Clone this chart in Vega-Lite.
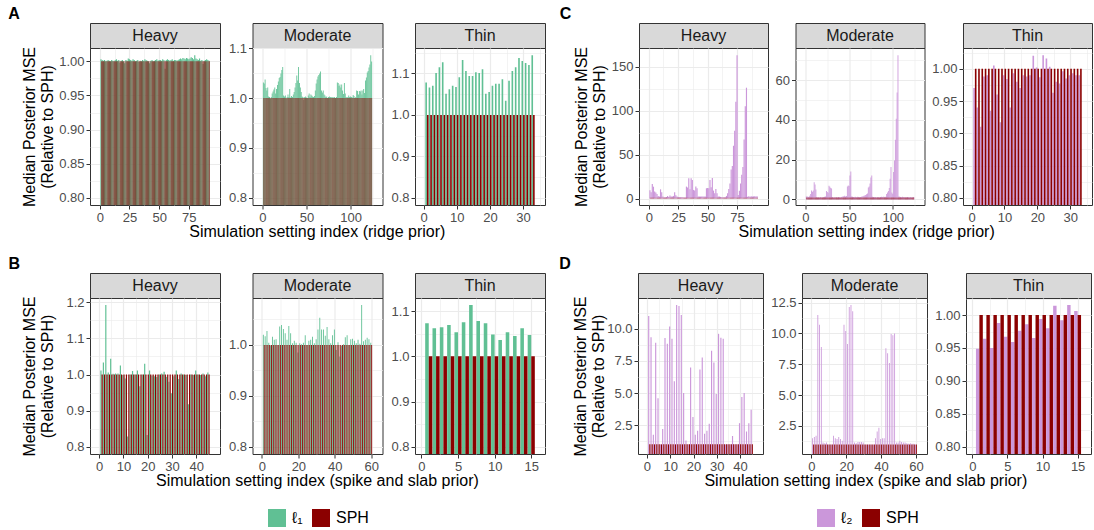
{
"$schema":"https://vega.github.io/schema/vega-lite/v6.json",
"padding":{"left":8,"top":5,"right":0,"bottom":0},
"background":"white",
"config":{
 "font":"Liberation Sans",
 "view":{"stroke":"#333333","strokeWidth":1},
 "axis":{"domain":false,"grid":true,"gridColor":"#EBEBEB","tickColor":"#333333","tickSize":4,"tickWidth":1,"labelColor":"#4D4D4D","labelFontSize":13,"labelPadding":2,"labelFlush":false,"labelOverlap":false,"titleFontSize":16,"titleFontWeight":"normal","titleColor":"#000000","titlePadding":3},
 "axisY":{"titleLineHeight":18},
 "title":{"fontSize":16,"color":"#000000"}
},
"datasets":{
"AH":[{"i":1,"L":1.003,"S":1},{"i":2,"L":1.002,"S":1},{"i":3,"L":1.001,"S":1},{"i":4,"L":1.002,"S":1},{"i":5,"L":1.000,"S":1},{"i":6,"L":1.001,"S":1},{"i":7,"L":1.002,"S":1},{"i":8,"L":1.001,"S":1},{"i":9,"L":1.000,"S":1},{"i":10,"L":1.002,"S":1},{"i":11,"L":1.001,"S":1},{"i":12,"L":1.000,"S":1},{"i":13,"L":1.002,"S":1},{"i":14,"L":1.003,"S":1},{"i":15,"L":1.001,"S":1},{"i":16,"L":1.002,"S":1},{"i":17,"L":0.998,"S":1},{"i":18,"L":1.001,"S":1},{"i":19,"L":1.002,"S":1},{"i":20,"L":1.000,"S":1},{"i":21,"L":0.997,"S":1},{"i":22,"L":1.002,"S":1},{"i":23,"L":1.001,"S":1},{"i":24,"L":1.004,"S":1},{"i":25,"L":1.003,"S":1},{"i":26,"L":1.002,"S":1},{"i":27,"L":1.001,"S":1},{"i":28,"L":1.003,"S":1},{"i":29,"L":1.002,"S":1},{"i":30,"L":1.000,"S":1},{"i":31,"L":1.001,"S":1},{"i":32,"L":1.002,"S":1},{"i":33,"L":0.999,"S":1},{"i":34,"L":1.001,"S":1},{"i":35,"L":1.000,"S":1},{"i":36,"L":1.002,"S":1},{"i":37,"L":1.001,"S":1},{"i":38,"L":1.003,"S":1},{"i":39,"L":1.002,"S":1},{"i":40,"L":1.001,"S":1},{"i":41,"L":1.000,"S":1},{"i":42,"L":0.997,"S":1},{"i":43,"L":1.001,"S":1},{"i":44,"L":1.002,"S":1},{"i":45,"L":1.000,"S":1},{"i":46,"L":1.001,"S":1},{"i":47,"L":1.002,"S":1},{"i":48,"L":1.003,"S":1},{"i":49,"L":1.001,"S":1},{"i":50,"L":1.002,"S":1},{"i":51,"L":1.002,"S":1},{"i":52,"L":1.001,"S":1},{"i":53,"L":1.003,"S":1},{"i":54,"L":1.002,"S":1},{"i":55,"L":0.989,"S":1},{"i":56,"L":1.002,"S":1},{"i":57,"L":1.003,"S":1},{"i":58,"L":1.002,"S":1},{"i":59,"L":1.001,"S":1},{"i":60,"L":1.002,"S":1},{"i":61,"L":1.003,"S":1},{"i":62,"L":1.001,"S":1},{"i":63,"L":1.002,"S":1},{"i":64,"L":1.002,"S":1},{"i":65,"L":1.001,"S":1},{"i":66,"L":1.002,"S":1},{"i":67,"L":1.003,"S":1},{"i":68,"L":1.004,"S":1},{"i":69,"L":1.003,"S":1},{"i":70,"L":1.005,"S":1},{"i":71,"L":1.004,"S":1},{"i":72,"L":1.003,"S":1},{"i":73,"L":1.005,"S":1},{"i":74,"L":1.004,"S":1},{"i":75,"L":1.003,"S":1},{"i":76,"L":1.004,"S":1},{"i":77,"L":1.006,"S":1},{"i":78,"L":1.005,"S":1},{"i":79,"L":1.003,"S":1},{"i":80,"L":1.009,"S":1},{"i":81,"L":1.004,"S":1},{"i":82,"L":1.003,"S":1},{"i":83,"L":1.002,"S":1},{"i":84,"L":1.004,"S":1},{"i":85,"L":1.001,"S":1},{"i":86,"L":1.002,"S":1},{"i":87,"L":0.996,"S":1},{"i":88,"L":1.001,"S":1},{"i":89,"L":1.002,"S":1},{"i":90,"L":1.003,"S":1},{"i":91,"L":1.002,"S":1},{"i":92,"L":1.001,"S":1}],
"AM":[{"i":1,"L":1.031,"S":1},{"i":2,"L":1.029,"S":1},{"i":3,"L":1.037,"S":1},{"i":4,"L":1.020,"S":1},{"i":5,"L":1.015,"S":1},{"i":6,"L":1.021,"S":1},{"i":7,"L":1.003,"S":1},{"i":8,"L":1.002,"S":1},{"i":9,"L":0.999,"S":1},{"i":10,"L":1.002,"S":1},{"i":11,"L":1.009,"S":1},{"i":12,"L":1.013,"S":1},{"i":13,"L":1.017,"S":1},{"i":14,"L":1.021,"S":1},{"i":15,"L":1.009,"S":1},{"i":16,"L":1.018,"S":1},{"i":17,"L":1.026,"S":1},{"i":18,"L":1.033,"S":1},{"i":19,"L":1.040,"S":1},{"i":20,"L":1.042,"S":1},{"i":21,"L":1.049,"S":1},{"i":22,"L":1.056,"S":1},{"i":23,"L":1.062,"S":1},{"i":24,"L":1.005,"S":1},{"i":25,"L":1.003,"S":1},{"i":26,"L":1.005,"S":1},{"i":27,"L":0.999,"S":1},{"i":28,"L":1.002,"S":1},{"i":29,"L":1.007,"S":1},{"i":30,"L":1.002,"S":1},{"i":31,"L":1.018,"S":1},{"i":32,"L":1.001,"S":1},{"i":33,"L":1.004,"S":1},{"i":34,"L":1.002,"S":1},{"i":35,"L":1.007,"S":1},{"i":36,"L":1.012,"S":1},{"i":37,"L":1.021,"S":1},{"i":38,"L":1.030,"S":1},{"i":39,"L":1.045,"S":1},{"i":40,"L":1.035,"S":1},{"i":41,"L":1.062,"S":1},{"i":42,"L":1.030,"S":1},{"i":43,"L":1.021,"S":1},{"i":44,"L":1.012,"S":1},{"i":45,"L":1.003,"S":1},{"i":46,"L":1.002,"S":1},{"i":47,"L":0.996,"S":1},{"i":48,"L":1.002,"S":1},{"i":49,"L":1.003,"S":1},{"i":50,"L":1.001,"S":1},{"i":51,"L":1.000,"S":1},{"i":52,"L":1.005,"S":1},{"i":53,"L":1.009,"S":1},{"i":54,"L":1.002,"S":1},{"i":55,"L":1.007,"S":1},{"i":56,"L":1.005,"S":1},{"i":57,"L":1.003,"S":1},{"i":58,"L":1.002,"S":1},{"i":59,"L":1.004,"S":1},{"i":60,"L":1.015,"S":1},{"i":61,"L":1.029,"S":1},{"i":62,"L":1.037,"S":1},{"i":63,"L":1.043,"S":1},{"i":64,"L":1.046,"S":1},{"i":65,"L":1.049,"S":1},{"i":66,"L":1.053,"S":1},{"i":67,"L":1.015,"S":1},{"i":68,"L":1.011,"S":1},{"i":69,"L":1.015,"S":1},{"i":70,"L":1.007,"S":1},{"i":71,"L":1.005,"S":1},{"i":72,"L":1.002,"S":1},{"i":73,"L":1.003,"S":1},{"i":74,"L":1.000,"S":1},{"i":75,"L":1.002,"S":1},{"i":76,"L":1.003,"S":1},{"i":77,"L":1.002,"S":1},{"i":78,"L":1.002,"S":1},{"i":79,"L":1.001,"S":1},{"i":80,"L":1.002,"S":1},{"i":81,"L":1.001,"S":1},{"i":82,"L":1.002,"S":1},{"i":83,"L":1.000,"S":1},{"i":84,"L":1.002,"S":1},{"i":85,"L":1.031,"S":1},{"i":86,"L":1.030,"S":1},{"i":87,"L":1.024,"S":1},{"i":88,"L":1.027,"S":1},{"i":89,"L":1.021,"S":1},{"i":90,"L":1.027,"S":1},{"i":91,"L":1.015,"S":1},{"i":92,"L":1.008,"S":1},{"i":93,"L":1.030,"S":1},{"i":94,"L":1.009,"S":1},{"i":95,"L":1.002,"S":1},{"i":96,"L":1.001,"S":1},{"i":97,"L":1.002,"S":1},{"i":98,"L":1.005,"S":1},{"i":99,"L":1.002,"S":1},{"i":100,"L":1.003,"S":1},{"i":101,"L":1.002,"S":1},{"i":102,"L":1.001,"S":1},{"i":103,"L":1.006,"S":1},{"i":104,"L":1.004,"S":1},{"i":105,"L":1.000,"S":1},{"i":106,"L":1.002,"S":1},{"i":107,"L":1.015,"S":1},{"i":108,"L":1.014,"S":1},{"i":109,"L":1.007,"S":1},{"i":110,"L":1.014,"S":1},{"i":111,"L":1.013,"S":1},{"i":112,"L":1.015,"S":1},{"i":113,"L":1.007,"S":1},{"i":114,"L":1.015,"S":1},{"i":115,"L":1.018,"S":1},{"i":116,"L":1.010,"S":1},{"i":117,"L":1.035,"S":1},{"i":118,"L":1.041,"S":1},{"i":119,"L":1.051,"S":1},{"i":120,"L":1.054,"S":1},{"i":121,"L":1.061,"S":1},{"i":122,"L":1.067,"S":1},{"i":123,"L":1.086,"S":1},{"i":124,"L":1.073,"S":1}],
"AT":[{"i":1,"L":1.078,"S":1},{"i":2,"L":1.066,"S":1},{"i":3,"L":1.070,"S":1},{"i":4,"L":1.101,"S":1},{"i":5,"L":1.115,"S":1},{"i":6,"L":1.127,"S":1},{"i":7,"L":1.051,"S":1},{"i":8,"L":1.062,"S":1},{"i":9,"L":1.070,"S":1},{"i":10,"L":1.067,"S":1},{"i":11,"L":1.091,"S":1},{"i":12,"L":1.132,"S":1},{"i":13,"L":1.106,"S":1},{"i":14,"L":1.094,"S":1},{"i":15,"L":1.094,"S":1},{"i":16,"L":1.103,"S":1},{"i":17,"L":1.101,"S":1},{"i":18,"L":1.110,"S":1},{"i":19,"L":1.051,"S":1},{"i":20,"L":1.055,"S":1},{"i":21,"L":1.070,"S":1},{"i":22,"L":1.075,"S":1},{"i":23,"L":1.075,"S":1},{"i":24,"L":1.086,"S":1},{"i":25,"L":1.034,"S":1},{"i":26,"L":1.082,"S":1},{"i":27,"L":1.106,"S":1},{"i":28,"L":1.115,"S":1},{"i":29,"L":1.137,"S":1},{"i":30,"L":1.130,"S":1},{"i":31,"L":1.125,"S":1},{"i":32,"L":1.120,"S":1},{"i":33,"L":1.144,"S":1}],
"BH":[{"i":1,"L":1.011,"S":1},{"i":2,"L":1.033,"S":1},{"i":3,"L":1.192,"S":1},{"i":4,"L":1.006,"S":1},{"i":5,"L":1.044,"S":1},{"i":6,"L":1.002,"S":1},{"i":7,"L":1.003,"S":1},{"i":8,"L":1.003,"S":1},{"i":9,"L":1.025,"S":1},{"i":10,"L":0.999,"S":1},{"i":11,"L":0.989,"S":1},{"i":12,"L":0.829,"S":1},{"i":13,"L":1.000,"S":1},{"i":14,"L":1.010,"S":1},{"i":15,"L":1.000,"S":1},{"i":16,"L":1.011,"S":1},{"i":17,"L":0.968,"S":1},{"i":18,"L":1.000,"S":1},{"i":19,"L":1.030,"S":1},{"i":20,"L":0.833,"S":1},{"i":21,"L":1.011,"S":1},{"i":22,"L":0.997,"S":1},{"i":23,"L":0.995,"S":1},{"i":24,"L":0.993,"S":1},{"i":25,"L":1.000,"S":1},{"i":26,"L":1.003,"S":1},{"i":27,"L":1.008,"S":1},{"i":28,"L":0.994,"S":1},{"i":29,"L":0.980,"S":1},{"i":30,"L":0.948,"S":1},{"i":31,"L":0.995,"S":1},{"i":32,"L":1.011,"S":1},{"i":33,"L":0.988,"S":1},{"i":34,"L":1.003,"S":1},{"i":35,"L":1.000,"S":1},{"i":36,"L":0.999,"S":1},{"i":37,"L":0.918,"S":1},{"i":38,"L":1.000,"S":1},{"i":39,"L":0.999,"S":1},{"i":40,"L":1.011,"S":1},{"i":41,"L":1.000,"S":1},{"i":42,"L":0.999,"S":1},{"i":43,"L":1.003,"S":1},{"i":44,"L":0.995,"S":1},{"i":45,"L":1.006,"S":1}],
"BM":[{"i":1,"L":1.020,"S":1},{"i":2,"L":1.017,"S":1},{"i":3,"L":1.027,"S":1},{"i":4,"L":1.004,"S":1},{"i":5,"L":0.999,"S":1},{"i":6,"L":1.016,"S":1},{"i":7,"L":1.010,"S":1},{"i":8,"L":1.011,"S":1},{"i":9,"L":1.000,"S":1},{"i":10,"L":1.036,"S":1},{"i":11,"L":1.039,"S":1},{"i":12,"L":1.031,"S":1},{"i":13,"L":1.023,"S":1},{"i":14,"L":1.010,"S":1},{"i":15,"L":1.037,"S":1},{"i":16,"L":1.023,"S":1},{"i":17,"L":1.003,"S":1},{"i":18,"L":1.008,"S":1},{"i":19,"L":1.004,"S":1},{"i":20,"L":0.985,"S":1},{"i":21,"L":1.003,"S":1},{"i":22,"L":1.001,"S":1},{"i":23,"L":1.004,"S":1},{"i":24,"L":1.019,"S":1},{"i":25,"L":1.000,"S":1},{"i":26,"L":1.008,"S":1},{"i":27,"L":1.010,"S":1},{"i":28,"L":1.016,"S":1},{"i":29,"L":1.003,"S":1},{"i":30,"L":1.011,"S":1},{"i":31,"L":1.030,"S":1},{"i":32,"L":1.053,"S":1},{"i":33,"L":1.030,"S":1},{"i":34,"L":1.030,"S":1},{"i":35,"L":1.018,"S":1},{"i":36,"L":1.035,"S":1},{"i":37,"L":1.011,"S":1},{"i":38,"L":1.003,"S":1},{"i":39,"L":1.019,"S":1},{"i":40,"L":1.030,"S":1},{"i":41,"L":0.990,"S":1},{"i":42,"L":1.005,"S":1},{"i":43,"L":0.977,"S":1},{"i":44,"L":0.998,"S":1},{"i":45,"L":1.001,"S":1},{"i":46,"L":1.015,"S":1},{"i":47,"L":1.019,"S":1},{"i":48,"L":1.000,"S":1},{"i":49,"L":1.011,"S":1},{"i":50,"L":1.012,"S":1},{"i":51,"L":1.008,"S":1},{"i":52,"L":1.003,"S":1},{"i":53,"L":1.010,"S":1},{"i":54,"L":1.002,"S":1},{"i":55,"L":1.078,"S":1},{"i":56,"L":1.007,"S":1},{"i":57,"L":1.010,"S":1},{"i":58,"L":1.014,"S":1},{"i":59,"L":1.011,"S":1},{"i":60,"L":1.004,"S":1}],
"BT":[{"i":1,"L":1.073,"S":1},{"i":2,"L":1.062,"S":1},{"i":3,"L":1.064,"S":1},{"i":4,"L":1.069,"S":1},{"i":5,"L":1.053,"S":1},{"i":6,"L":1.075,"S":1},{"i":7,"L":1.113,"S":1},{"i":8,"L":1.078,"S":1},{"i":9,"L":1.073,"S":1},{"i":10,"L":1.048,"S":1},{"i":11,"L":1.036,"S":1},{"i":12,"L":1.053,"S":1},{"i":13,"L":1.045,"S":1},{"i":14,"L":1.062,"S":1},{"i":15,"L":1.047,"S":1}],
"CH":[{"i":1,"L":9.5,"S":1},{"i":2,"L":7.2,"S":1},{"i":3,"L":16.5,"S":1},{"i":4,"L":13.5,"S":1},{"i":5,"L":8,"S":1},{"i":6,"L":6.8,"S":1},{"i":7,"L":5.3,"S":1},{"i":8,"L":3,"S":1},{"i":9,"L":2.3,"S":1},{"i":10,"L":10.5,"S":1},{"i":11,"L":7.2,"S":1},{"i":12,"L":2.3,"S":1},{"i":13,"L":1.5,"S":1},{"i":14,"L":1.5,"S":1},{"i":15,"L":1.9,"S":1},{"i":16,"L":3,"S":1},{"i":17,"L":1.9,"S":1},{"i":18,"L":3.4,"S":1},{"i":19,"L":2.3,"S":1},{"i":20,"L":2.3,"S":1},{"i":21,"L":3,"S":1},{"i":22,"L":7.2,"S":1},{"i":23,"L":3.8,"S":1},{"i":24,"L":2.3,"S":1},{"i":25,"L":1.9,"S":1},{"i":26,"L":1.5,"S":1},{"i":27,"L":1.5,"S":1},{"i":28,"L":1.5,"S":1},{"i":29,"L":1.5,"S":1},{"i":30,"L":1.1,"S":1},{"i":31,"L":1.1,"S":1},{"i":32,"L":13.6,"S":1},{"i":33,"L":12.5,"S":1},{"i":34,"L":23,"S":1},{"i":35,"L":10.6,"S":1},{"i":36,"L":23,"S":1},{"i":37,"L":21,"S":1},{"i":38,"L":9.8,"S":1},{"i":39,"L":9.1,"S":1},{"i":40,"L":13.6,"S":1},{"i":41,"L":11.7,"S":1},{"i":42,"L":2.3,"S":1},{"i":43,"L":2.3,"S":1},{"i":44,"L":2.3,"S":1},{"i":45,"L":2.3,"S":1},{"i":46,"L":2.3,"S":1},{"i":47,"L":2.3,"S":1},{"i":48,"L":2.3,"S":1},{"i":49,"L":11.7,"S":1},{"i":50,"L":12.1,"S":1},{"i":51,"L":11.7,"S":1},{"i":52,"L":21,"S":1},{"i":53,"L":12.9,"S":1},{"i":54,"L":23.5,"S":1},{"i":55,"L":9.1,"S":1},{"i":56,"L":6,"S":1},{"i":57,"L":11,"S":1},{"i":58,"L":6,"S":1},{"i":59,"L":2.3,"S":1},{"i":60,"L":2.3,"S":1},{"i":61,"L":1.9,"S":1},{"i":62,"L":1.5,"S":1},{"i":63,"L":1.5,"S":1},{"i":64,"L":1.5,"S":1},{"i":65,"L":1.5,"S":1},{"i":66,"L":3,"S":1},{"i":67,"L":6,"S":1},{"i":68,"L":11,"S":1},{"i":69,"L":17,"S":1},{"i":70,"L":33,"S":1},{"i":71,"L":37,"S":1},{"i":72,"L":60,"S":1},{"i":73,"L":77,"S":1},{"i":74,"L":110,"S":1},{"i":75,"L":163,"S":1},{"i":76,"L":4,"S":1},{"i":77,"L":9,"S":1},{"i":78,"L":17,"S":1},{"i":79,"L":27,"S":1},{"i":80,"L":36,"S":1},{"i":81,"L":67,"S":1},{"i":82,"L":105,"S":1},{"i":83,"L":126,"S":1},{"i":84,"L":2,"S":1},{"i":85,"L":2.5,"S":1},{"i":86,"L":2,"S":1},{"i":87,"L":2.5,"S":1},{"i":88,"L":2.3,"S":1},{"i":89,"L":2.5,"S":1},{"i":90,"L":2.5,"S":1},{"i":91,"L":2.3,"S":1},{"i":92,"L":2.5,"S":1}],
"CM":[{"i":1,"L":1.5,"S":1},{"i":2,"L":1.5,"S":1},{"i":3,"L":1.3,"S":1},{"i":4,"L":1.2,"S":1},{"i":5,"L":1.8,"S":1},{"i":6,"L":2.7,"S":1},{"i":7,"L":4.5,"S":1},{"i":8,"L":3.9,"S":1},{"i":9,"L":4.5,"S":1},{"i":10,"L":8.6,"S":1},{"i":11,"L":7.5,"S":1},{"i":12,"L":5.0,"S":1},{"i":13,"L":1.2,"S":1},{"i":14,"L":1.0,"S":1},{"i":15,"L":1.1,"S":1},{"i":16,"L":1.0,"S":1},{"i":17,"L":1.2,"S":1},{"i":18,"L":1.0,"S":1},{"i":19,"L":1.1,"S":1},{"i":20,"L":1.0,"S":1},{"i":21,"L":1.2,"S":1},{"i":22,"L":1.3,"S":1},{"i":23,"L":1.5,"S":1},{"i":24,"L":4.2,"S":1},{"i":25,"L":3.7,"S":1},{"i":26,"L":3.4,"S":1},{"i":27,"L":6.9,"S":1},{"i":28,"L":6.4,"S":1},{"i":29,"L":5.8,"S":1},{"i":30,"L":5.5,"S":1},{"i":31,"L":1.2,"S":1},{"i":32,"L":1.0,"S":1},{"i":33,"L":1.1,"S":1},{"i":34,"L":1.0,"S":1},{"i":35,"L":1.2,"S":1},{"i":36,"L":1.1,"S":1},{"i":37,"L":1.0,"S":1},{"i":38,"L":1.2,"S":1},{"i":39,"L":1.1,"S":1},{"i":40,"L":1.0,"S":1},{"i":41,"L":1.2,"S":1},{"i":42,"L":1.3,"S":1},{"i":43,"L":1.5,"S":1},{"i":44,"L":1.6,"S":1},{"i":45,"L":1.8,"S":1},{"i":46,"L":1.5,"S":1},{"i":47,"L":1.7,"S":1},{"i":48,"L":6.5,"S":1},{"i":49,"L":7.0,"S":1},{"i":50,"L":6.8,"S":1},{"i":51,"L":12.0,"S":1},{"i":52,"L":14.0,"S":1},{"i":53,"L":1.5,"S":1},{"i":54,"L":1.3,"S":1},{"i":55,"L":1.2,"S":1},{"i":56,"L":1.1,"S":1},{"i":57,"L":1.3,"S":1},{"i":58,"L":1.2,"S":1},{"i":59,"L":1.1,"S":1},{"i":60,"L":1.3,"S":1},{"i":61,"L":1.2,"S":1},{"i":62,"L":1.1,"S":1},{"i":63,"L":1.2,"S":1},{"i":64,"L":1.4,"S":1},{"i":65,"L":1.5,"S":1},{"i":66,"L":1.6,"S":1},{"i":67,"L":1.8,"S":1},{"i":68,"L":2.0,"S":1},{"i":69,"L":2.3,"S":1},{"i":70,"L":2.6,"S":1},{"i":71,"L":3.0,"S":1},{"i":72,"L":6.0,"S":1},{"i":73,"L":6.5,"S":1},{"i":74,"L":8.0,"S":1},{"i":75,"L":11.0,"S":1},{"i":76,"L":12.0,"S":1},{"i":77,"L":1.3,"S":1},{"i":78,"L":1.2,"S":1},{"i":79,"L":1.1,"S":1},{"i":80,"L":1.2,"S":1},{"i":81,"L":1.0,"S":1},{"i":82,"L":1.1,"S":1},{"i":83,"L":1.2,"S":1},{"i":84,"L":1.1,"S":1},{"i":85,"L":1.0,"S":1},{"i":86,"L":1.2,"S":1},{"i":87,"L":1.3,"S":1},{"i":88,"L":1.2,"S":1},{"i":89,"L":1.4,"S":1},{"i":90,"L":1.3,"S":1},{"i":91,"L":1.2,"S":1},{"i":92,"L":1.3,"S":1},{"i":93,"L":2.7,"S":1},{"i":94,"L":3.5,"S":1},{"i":95,"L":4.2,"S":1},{"i":96,"L":5.7,"S":1},{"i":97,"L":10.4,"S":1},{"i":98,"L":16.3,"S":1},{"i":99,"L":3.5,"S":1},{"i":100,"L":2.9,"S":1},{"i":101,"L":13.8,"S":1},{"i":102,"L":19.6,"S":1},{"i":103,"L":30.0,"S":1},{"i":104,"L":40.6,"S":1},{"i":105,"L":53.7,"S":1},{"i":106,"L":72.5,"S":1},{"i":107,"L":1.5,"S":1},{"i":108,"L":1.3,"S":1},{"i":109,"L":1.2,"S":1},{"i":110,"L":1.1,"S":1},{"i":111,"L":1.3,"S":1},{"i":112,"L":1.2,"S":1},{"i":113,"L":1.1,"S":1},{"i":114,"L":1.2,"S":1},{"i":115,"L":1.0,"S":1},{"i":116,"L":1.1,"S":1},{"i":117,"L":1.2,"S":1},{"i":118,"L":1.1,"S":1},{"i":119,"L":1.0,"S":1},{"i":120,"L":1.2,"S":1},{"i":121,"L":1.1,"S":1},{"i":122,"L":1.0,"S":1},{"i":123,"L":1.1,"S":1},{"i":124,"L":1.2,"S":1}],
"CT":[{"i":1,"L":0.970,"S":1},{"i":2,"L":0.940,"S":1},{"i":3,"L":0.910,"S":1},{"i":4,"L":0.988,"S":1},{"i":5,"L":0.990,"S":1},{"i":6,"L":0.935,"S":1},{"i":7,"L":1.005,"S":1},{"i":8,"L":0.960,"S":1},{"i":9,"L":0.917,"S":1},{"i":10,"L":0.990,"S":1},{"i":11,"L":0.984,"S":1},{"i":12,"L":0.940,"S":1},{"i":13,"L":0.993,"S":1},{"i":14,"L":0.980,"S":1},{"i":15,"L":0.970,"S":1},{"i":16,"L":0.990,"S":1},{"i":17,"L":0.988,"S":1},{"i":18,"L":0.990,"S":1},{"i":19,"L":1.020,"S":1},{"i":20,"L":1.002,"S":1},{"i":21,"L":0.987,"S":1},{"i":22,"L":1.021,"S":1},{"i":23,"L":1.016,"S":1},{"i":24,"L":1.003,"S":1},{"i":25,"L":0.963,"S":1},{"i":26,"L":0.980,"S":1},{"i":27,"L":0.977,"S":1},{"i":28,"L":0.996,"S":1},{"i":29,"L":0.985,"S":1},{"i":30,"L":0.990,"S":1},{"i":31,"L":0.993,"S":1},{"i":32,"L":0.990,"S":1},{"i":33,"L":0.990,"S":1}],
"DH":[{"i":1,"L":11.0,"S":1},{"i":2,"L":9.36,"S":1},{"i":3,"L":1.75,"S":1},{"i":4,"L":8.93,"S":1},{"i":5,"L":4.6,"S":1},{"i":6,"L":1.0,"S":1},{"i":7,"L":2.2,"S":1},{"i":8,"L":9.3,"S":1},{"i":9,"L":8.85,"S":1},{"i":10,"L":10.2,"S":1},{"i":11,"L":9.24,"S":1},{"i":12,"L":5.92,"S":1},{"i":13,"L":11.86,"S":1},{"i":14,"L":11.78,"S":1},{"i":15,"L":11.09,"S":1},{"i":16,"L":5.0,"S":1},{"i":17,"L":1.3,"S":1},{"i":18,"L":1.0,"S":1},{"i":19,"L":7.0,"S":1},{"i":20,"L":3.14,"S":1},{"i":21,"L":1.75,"S":1},{"i":22,"L":2.06,"S":1},{"i":23,"L":6.84,"S":1},{"i":24,"L":7.77,"S":1},{"i":25,"L":1.83,"S":1},{"i":26,"L":2.06,"S":1},{"i":27,"L":2.6,"S":1},{"i":28,"L":8.3,"S":1},{"i":29,"L":7.38,"S":1},{"i":30,"L":4.92,"S":1},{"i":31,"L":9.62,"S":1},{"i":32,"L":9.31,"S":1},{"i":33,"L":9.24,"S":1},{"i":34,"L":1.0,"S":1},{"i":35,"L":1.0,"S":1},{"i":36,"L":1.0,"S":1},{"i":37,"L":1.65,"S":1},{"i":38,"L":1.0,"S":1},{"i":39,"L":1.0,"S":1},{"i":40,"L":2.65,"S":1},{"i":41,"L":4.7,"S":1},{"i":42,"L":5.0,"S":1},{"i":43,"L":2.0,"S":1},{"i":44,"L":2.65,"S":1},{"i":45,"L":3.7,"S":1}],
"DM":[{"i":1,"L":1.5,"S":1},{"i":2,"L":1.6,"S":1},{"i":3,"L":1.7,"S":1},{"i":4,"L":11.5,"S":1},{"i":5,"L":10.7,"S":1},{"i":6,"L":8.9,"S":1},{"i":7,"L":1.15,"S":1},{"i":8,"L":1.1,"S":1},{"i":9,"L":1.15,"S":1},{"i":10,"L":1.0,"S":1},{"i":11,"L":1.0,"S":1},{"i":12,"L":1.0,"S":1},{"i":13,"L":1.7,"S":1},{"i":14,"L":1.5,"S":1},{"i":15,"L":1.45,"S":1},{"i":16,"L":1.6,"S":1},{"i":17,"L":1.45,"S":1},{"i":18,"L":1.3,"S":1},{"i":19,"L":10.7,"S":1},{"i":20,"L":10.2,"S":1},{"i":21,"L":9.15,"S":1},{"i":22,"L":12.15,"S":1},{"i":23,"L":12.3,"S":1},{"i":24,"L":11.8,"S":1},{"i":25,"L":1.15,"S":1},{"i":26,"L":1.1,"S":1},{"i":27,"L":1.2,"S":1},{"i":28,"L":1.2,"S":1},{"i":29,"L":1.2,"S":1},{"i":30,"L":1.15,"S":1},{"i":31,"L":1.0,"S":1},{"i":32,"L":1.0,"S":1},{"i":33,"L":1.0,"S":1},{"i":34,"L":1.0,"S":1},{"i":35,"L":1.0,"S":1},{"i":36,"L":1.0,"S":1},{"i":37,"L":1.5,"S":1},{"i":38,"L":2.05,"S":1},{"i":39,"L":2.35,"S":1},{"i":40,"L":1.45,"S":1},{"i":41,"L":1.5,"S":1},{"i":42,"L":1.5,"S":1},{"i":43,"L":8.8,"S":1},{"i":44,"L":8.4,"S":1},{"i":45,"L":7.6,"S":1},{"i":46,"L":9.95,"S":1},{"i":47,"L":9.85,"S":1},{"i":48,"L":10.0,"S":1},{"i":49,"L":1.15,"S":1},{"i":50,"L":1.15,"S":1},{"i":51,"L":1.3,"S":1},{"i":52,"L":1.2,"S":1},{"i":53,"L":1.15,"S":1},{"i":54,"L":1.15,"S":1},{"i":55,"L":1.1,"S":1},{"i":56,"L":1.05,"S":1},{"i":57,"L":1.1,"S":1},{"i":58,"L":1.05,"S":1},{"i":59,"L":1.05,"S":1},{"i":60,"L":1.0,"S":1}],
"DT":[{"i":1,"L":0.949,"S":1},{"i":2,"L":0.964,"S":1},{"i":3,"L":0.950,"S":1},{"i":4,"L":0.988,"S":1},{"i":5,"L":0.967,"S":1},{"i":6,"L":0.959,"S":1},{"i":7,"L":0.976,"S":1},{"i":8,"L":0.986,"S":1},{"i":9,"L":0.965,"S":1},{"i":10,"L":0.994,"S":1},{"i":11,"L":0.980,"S":1},{"i":12,"L":1.014,"S":1},{"i":13,"L":0.992,"S":1},{"i":14,"L":1.015,"S":1},{"i":15,"L":1.006,"S":1}]
},
"spacing":20,
"vconcat":[
{"spacing":15,"vconcat":[
 {"spacing":13,"hconcat":[
  {"title":{"text":"A","anchor":"start","frame":"bounds","dx":-13,"offset":1,"fontWeight":"bold"},"vconcat":[
  {"title":{"text":"Simulation setting index (ridge prior)","orient":"bottom","anchor":"middle","frame":"bounds","dx":34,"offset":-1,"fontWeight":"normal"},"spacing":6.5,"hconcat":[
   {"bounds":"flush","spacing":0,"vconcat":[
    {"width":130,"height":25,"view":{"fill":"#D9D9D9","stroke":"#333333"},"data":{"values":[{"t":"Heavy"}]},"mark":{"type":"text","fontSize":16,"color":"#1A1A1A"},"encoding":{"text":{"field":"t"}}},
    {"width":130,"height":157,"data":{"name":"AH"},"transform":[{"fold":["L","S"],"as":["m","v"]}],
     "encoding":{
      "x":{"field":"i","type":"quantitative","scale":{"domain":[-4.045,97.045],"nice":false,"zero":false},"axis":{"title":null,"values":[0,12.5,25,37.5,50,62.5,75,87.5],"format":"d","labelExpr":"datum.value%25!=0?'':datum.label","tickOpacity":{"condition":{"test":"datum.value%25!=0","value":0},"value":1},"gridWidth":{"condition":{"test":"datum.value%25!=0","value":0.6},"value":1.2}}},
      "y":{"field":"v","type":"quantitative","scale":{"domain":[0.7896,1.0195],"nice":false,"zero":false},"axis":{"title":["Median Posterior MSE","(Relative to SPH)"],"values":[0.8,0.825,0.85,0.875,0.9,0.925,0.95,0.975,1],"format":".2f","labelExpr":"abs(datum.value*20-round(datum.value*20))>0.001?'':datum.label","tickOpacity":{"condition":{"test":"abs(datum.value*20-round(datum.value*20))>0.001","value":0},"value":1},"gridWidth":{"condition":{"test":"abs(datum.value*20-round(datum.value*20))>0.001","value":0.6},"value":1.2}}}},
     "layer":[
      {"transform":[{"filter":"datum.m=='L'"}],"mark":{"type":"bar","color":"#60C094","width":1.158,"xOffset":0,"clip":true}},
      {"transform":[{"filter":"datum.m=='S'"}],"mark":{"type":"bar","color":"#8B0000","width":0.579,"xOffset":0.289,"clip":true}}]}
   ]},
   {"bounds":"flush","spacing":0,"vconcat":[
    {"width":130,"height":25,"view":{"fill":"#D9D9D9","stroke":"#333333"},"data":{"values":[{"t":"Moderate"}]},"mark":{"type":"text","fontSize":16,"color":"#1A1A1A"},"encoding":{"text":{"field":"t"}}},
    {"width":130,"height":157,"data":{"name":"AM"},"transform":[{"fold":["L","S"],"as":["m","v"]}],
     "encoding":{
      "x":{"field":"i","type":"quantitative","scale":{"domain":[-5.645,130.645],"nice":false,"zero":false},"axis":{"title":null,"values":[0,25,50,75,100,125],"format":"d","labelExpr":"datum.value%50!=0?'':datum.label","tickOpacity":{"condition":{"test":"datum.value%50!=0","value":0},"value":1},"gridWidth":{"condition":{"test":"datum.value%50!=0","value":0.6},"value":1.2}}},
      "y":{"field":"v","type":"quantitative","scale":{"domain":[0.7857,1.1003],"nice":false,"zero":false},"axis":{"title":null,"values":[0.8,0.85,0.9,0.95,1,1.05,1.1],"format":".1f","labelExpr":"abs(datum.value*10-round(datum.value*10))>0.001?'':datum.label","tickOpacity":{"condition":{"test":"abs(datum.value*10-round(datum.value*10))>0.001","value":0},"value":1},"gridWidth":{"condition":{"test":"abs(datum.value*10-round(datum.value*10))>0.001","value":0.6},"value":1.2}}}},
     "layer":[
      {"transform":[{"filter":"datum.m=='L'"}],"mark":{"type":"bar","color":"#60C094","width":0.858,"xOffset":0,"clip":true}},
      {"transform":[{"filter":"datum.m=='S'"}],"mark":{"type":"bar","color":"#8B0000","width":0.429,"xOffset":0.215,"clip":true}}]}
   ]},
   {"bounds":"flush","spacing":0,"vconcat":[
    {"width":130,"height":25,"view":{"fill":"#D9D9D9","stroke":"#333333"},"data":{"values":[{"t":"Thin"}]},"mark":{"type":"text","fontSize":16,"color":"#1A1A1A"},"encoding":{"text":{"field":"t"}}},
    {"width":130,"height":157,"data":{"name":"AT"},"transform":[{"fold":["L","S"],"as":["m","v"]}],
     "encoding":{
      "x":{"field":"i","type":"quantitative","scale":{"domain":[-1.095,35.095],"nice":false,"zero":false},"axis":{"title":null,"values":[0,5,10,15,20,25,30,35],"format":"d","labelExpr":"datum.value%10!=0?'':datum.label","tickOpacity":{"condition":{"test":"datum.value%10!=0","value":0},"value":1},"gridWidth":{"condition":{"test":"datum.value%10!=0","value":0.6},"value":1.2}}},
      "y":{"field":"v","type":"quantitative","scale":{"domain":[0.7828,1.1612],"nice":false,"zero":false},"axis":{"title":null,"values":[0.8,0.85,0.9,0.95,1,1.05,1.1,1.15],"format":".1f","labelExpr":"abs(datum.value*10-round(datum.value*10))>0.001?'':datum.label","tickOpacity":{"condition":{"test":"abs(datum.value*10-round(datum.value*10))>0.001","value":0},"value":1},"gridWidth":{"condition":{"test":"abs(datum.value*10-round(datum.value*10))>0.001","value":0.6},"value":1.2}}}},
     "layer":[
      {"transform":[{"filter":"datum.m=='L'"}],"mark":{"type":"bar","color":"#60C094","width":1.617,"xOffset":-0.808,"clip":true}},
      {"transform":[{"filter":"datum.m=='S'"}],"mark":{"type":"bar","color":"#8B0000","width":1.617,"xOffset":0.808,"clip":true}}]}
   ]}
  ]}]},
  {"title":{"text":"C","anchor":"start","frame":"bounds","dx":-13,"offset":1,"fontWeight":"bold"},"vconcat":[
  {"title":{"text":"Simulation setting index (ridge prior)","orient":"bottom","anchor":"middle","frame":"bounds","dx":34,"offset":-1,"fontWeight":"normal"},"spacing":5.5,"hconcat":[
    {"bounds":"flush","spacing":0,"vconcat":[
     {"width":129,"height":25,"view":{"fill":"#D9D9D9","stroke":"#333333"},"data":{"values":[{"t":"Heavy"}]},"mark":{"type":"text","fontSize":16,"color":"#1A1A1A"},"encoding":{"text":{"field":"t"}}},
     {"width":129,"height":157,"data":{"name":"CH"},"transform":[{"fold":["L","S"],"as":["m","v"]}],
      "encoding":{
       "x":{"field":"i","type":"quantitative","scale":{"domain":[-4.045,97.045],"nice":false,"zero":false},"axis":{"title":null,"values":[0,12.5,25,37.5,50,62.5,75,87.5],"format":"d","labelExpr":"datum.value%25!=0?'':datum.label","tickOpacity":{"condition":{"test":"datum.value%25!=0","value":0},"value":1},"gridWidth":{"condition":{"test":"datum.value%25!=0","value":0.6},"value":1.2}}},
       "y":{"field":"v","type":"quantitative","scale":{"domain":[-7.31,171.11],"nice":false,"zero":true},"axis":{"title":["Median Posterior MSE","(Relative to SPH)"],"titlePadding":4,"values":[0,25,50,75,100,125,150],"format":"d","labelExpr":"datum.value%50!=0?'':datum.label","tickOpacity":{"condition":{"test":"datum.value%50!=0","value":0},"value":1},"gridWidth":{"condition":{"test":"datum.value%50!=0","value":0.6},"value":1.2}}}},
      "layer":[
       {"transform":[{"filter":"datum.m=='L'"}],"mark":{"type":"bar","color":"#CB97DA","width":1.148,"xOffset":0,"clip":true}},
       {"transform":[{"filter":"datum.m=='S'"}],"mark":{"type":"bar","color":"#8B0000","width":0.574,"xOffset":0.287,"clip":true}}]}
    ]},
    {"bounds":"flush","spacing":0,"vconcat":[
     {"width":129,"height":25,"view":{"fill":"#D9D9D9","stroke":"#333333"},"data":{"values":[{"t":"Moderate"}]},"mark":{"type":"text","fontSize":16,"color":"#1A1A1A"},"encoding":{"text":{"field":"t"}}},
     {"width":129,"height":157,"data":{"name":"CM"},"transform":[{"fold":["L","S"],"as":["m","v"]}],
      "encoding":{
       "x":{"field":"i","type":"quantitative","scale":{"domain":[-5.645,130.645],"nice":false,"zero":false},"axis":{"title":null,"values":[0,25,50,75,100,125],"format":"d","labelExpr":"datum.value%50!=0?'':datum.label","tickOpacity":{"condition":{"test":"datum.value%50!=0","value":0},"value":1},"gridWidth":{"condition":{"test":"datum.value%50!=0","value":0.6},"value":1.2}}},
       "y":{"field":"v","type":"quantitative","scale":{"domain":[-2.785,76.085],"nice":false,"zero":true},"axis":{"title":null,"values":[0,10,20,30,40,50,60,70],"format":"d","labelExpr":"datum.value%20!=0?'':datum.label","tickOpacity":{"condition":{"test":"datum.value%20!=0","value":0},"value":1},"gridWidth":{"condition":{"test":"datum.value%20!=0","value":0.6},"value":1.2}}}},
      "layer":[
       {"transform":[{"filter":"datum.m=='L'"}],"mark":{"type":"bar","color":"#CB97DA","width":0.852,"xOffset":0,"clip":true}},
       {"transform":[{"filter":"datum.m=='S'"}],"mark":{"type":"bar","color":"#8B0000","width":0.426,"xOffset":0.213,"clip":true}}]}
    ]},
   {"bounds":"flush","spacing":0,"vconcat":[
    {"width":129,"height":25,"view":{"fill":"#D9D9D9","stroke":"#333333"},"data":{"values":[{"t":"Thin"}]},"mark":{"type":"text","fontSize":16,"color":"#1A1A1A"},"encoding":{"text":{"field":"t"}}},
    {"width":129,"height":157,"data":{"name":"CT"},"transform":[{"fold":["L","S"],"as":["m","v"]}],
     "encoding":{
      "x":{"field":"i","type":"quantitative","scale":{"domain":[-1.095,35.095],"nice":false,"zero":false},"axis":{"title":null,"values":[0,5,10,15,20,25,30,35],"format":"d","labelExpr":"datum.value%10!=0?'':datum.label","tickOpacity":{"condition":{"test":"datum.value%10!=0","value":0},"value":1},"gridWidth":{"condition":{"test":"datum.value%10!=0","value":0.6},"value":1.2}}},
      "y":{"field":"v","type":"quantitative","scale":{"domain":[0.789,1.0321],"nice":false,"zero":false},"axis":{"title":null,"values":[0.8,0.825,0.85,0.875,0.9,0.925,0.95,0.975,1,1.025],"format":".2f","labelExpr":"abs(datum.value*20-round(datum.value*20))>0.001?'':datum.label","tickOpacity":{"condition":{"test":"abs(datum.value*20-round(datum.value*20))>0.001","value":0},"value":1},"gridWidth":{"condition":{"test":"abs(datum.value*20-round(datum.value*20))>0.001","value":0.6},"value":1.2}}}},
     "layer":[
      {"transform":[{"filter":"datum.m=='L'"}],"mark":{"type":"bar","color":"#CB97DA","width":1.604,"xOffset":-0.802,"clip":true}},
      {"transform":[{"filter":"datum.m=='S'"}],"mark":{"type":"bar","color":"#8B0000","width":1.604,"xOffset":0.802,"clip":true}}]}
   ]}
  ]}]}
 ]},
 {"spacing":13,"hconcat":[
  {"title":{"text":"B","anchor":"start","frame":"bounds","dx":-13,"offset":1,"fontWeight":"bold"},"vconcat":[
  {"title":{"text":"Simulation setting index (spike and slab prior)","orient":"bottom","anchor":"middle","frame":"bounds","dx":34,"offset":-1,"fontWeight":"normal"},"spacing":6.5,"hconcat":[
   {"bounds":"flush","spacing":0,"vconcat":[
    {"width":130,"height":25,"view":{"fill":"#D9D9D9","stroke":"#333333"},"data":{"values":[{"t":"Heavy"}]},"mark":{"type":"text","fontSize":16,"color":"#1A1A1A"},"encoding":{"text":{"field":"t"}}},
    {"width":130,"height":156,"data":{"name":"BH"},"transform":[{"fold":["L","S"],"as":["m","v"]}],
     "encoding":{
      "x":{"field":"i","type":"quantitative","scale":{"domain":[-1.695,47.695],"nice":false,"zero":false},"axis":{"title":null,"values":[0,5,10,15,20,25,30,35,40,45],"format":"d","labelExpr":"datum.value%10!=0?'':datum.label","tickOpacity":{"condition":{"test":"datum.value%10!=0","value":0},"value":1},"gridWidth":{"condition":{"test":"datum.value%10!=0","value":0.6},"value":1.2}}},
      "y":{"field":"v","type":"quantitative","scale":{"domain":[0.7804,1.2116],"nice":false,"zero":false},"axis":{"title":["Median Posterior MSE","(Relative to SPH)"],"titlePadding":10,"values":[0.8,0.85,0.9,0.95,1,1.05,1.1,1.15,1.2],"format":".1f","labelExpr":"abs(datum.value*10-round(datum.value*10))>0.001?'':datum.label","tickOpacity":{"condition":{"test":"abs(datum.value*10-round(datum.value*10))>0.001","value":0},"value":1},"gridWidth":{"condition":{"test":"abs(datum.value*10-round(datum.value*10))>0.001","value":0.6},"value":1.2}}}},
     "layer":[
      {"transform":[{"filter":"datum.m=='L'"}],"mark":{"type":"bar","color":"#60C094","width":1.184,"xOffset":-0.592,"clip":true}},
      {"transform":[{"filter":"datum.m=='S'"}],"mark":{"type":"bar","color":"#8B0000","width":1.184,"xOffset":0.592,"clip":true}}]}
   ]},
   {"bounds":"flush","spacing":0,"vconcat":[
    {"width":130,"height":25,"view":{"fill":"#D9D9D9","stroke":"#333333"},"data":{"values":[{"t":"Moderate"}]},"mark":{"type":"text","fontSize":16,"color":"#1A1A1A"},"encoding":{"text":{"field":"t"}}},
    {"width":130,"height":156,"data":{"name":"BM"},"transform":[{"fold":["L","S"],"as":["m","v"]}],
     "encoding":{
      "x":{"field":"i","type":"quantitative","scale":{"domain":[-2.445,63.445],"nice":false,"zero":false},"axis":{"title":null,"values":[0,10,20,30,40,50,60],"format":"d","labelExpr":"datum.value%20!=0?'':datum.label","tickOpacity":{"condition":{"test":"datum.value%20!=0","value":0},"value":1},"gridWidth":{"condition":{"test":"datum.value%20!=0","value":0.6},"value":1.2}}},
      "y":{"field":"v","type":"quantitative","scale":{"domain":[0.7861,1.0919],"nice":false,"zero":false},"axis":{"title":null,"values":[0.8,0.85,0.9,0.95,1,1.05],"format":".1f","labelExpr":"abs(datum.value*10-round(datum.value*10))>0.001?'':datum.label","tickOpacity":{"condition":{"test":"abs(datum.value*10-round(datum.value*10))>0.001","value":0},"value":1},"gridWidth":{"condition":{"test":"abs(datum.value*10-round(datum.value*10))>0.001","value":0.6},"value":1.2}}}},
     "layer":[
      {"transform":[{"filter":"datum.m=='L'"}],"mark":{"type":"bar","color":"#60C094","width":0.888,"xOffset":-0.444,"clip":true}},
      {"transform":[{"filter":"datum.m=='S'"}],"mark":{"type":"bar","color":"#8B0000","width":0.888,"xOffset":0.444,"clip":true}}]}
   ]},
   {"bounds":"flush","spacing":0,"vconcat":[
    {"width":130,"height":25,"view":{"fill":"#D9D9D9","stroke":"#333333"},"data":{"values":[{"t":"Thin"}]},"mark":{"type":"text","fontSize":16,"color":"#1A1A1A"},"encoding":{"text":{"field":"t"}}},
    {"width":130,"height":156,"data":{"name":"BT"},"transform":[{"fold":["L","S"],"as":["m","v"]}],
     "encoding":{
      "x":{"field":"i","type":"quantitative","scale":{"domain":[-0.195,16.195],"nice":false,"zero":false},"axis":{"title":null,"values":[0,2.5,5,7.5,10,12.5,15],"format":"d","labelExpr":"datum.value%5!=0?'':datum.label","tickOpacity":{"condition":{"test":"datum.value%5!=0","value":0},"value":1},"gridWidth":{"condition":{"test":"datum.value%5!=0","value":0.6},"value":1.2}}},
      "y":{"field":"v","type":"quantitative","scale":{"domain":[0.7844,1.1287],"nice":false,"zero":false},"axis":{"title":null,"values":[0.8,0.85,0.9,0.95,1,1.05,1.1],"format":".1f","labelExpr":"abs(datum.value*10-round(datum.value*10))>0.001?'':datum.label","tickOpacity":{"condition":{"test":"abs(datum.value*10-round(datum.value*10))>0.001","value":0},"value":1},"gridWidth":{"condition":{"test":"abs(datum.value*10-round(datum.value*10))>0.001","value":0.6},"value":1.2}}}},
     "layer":[
      {"transform":[{"filter":"datum.m=='L'"}],"mark":{"type":"bar","color":"#60C094","width":3.569,"xOffset":-1.785,"clip":true}},
      {"transform":[{"filter":"datum.m=='S'"}],"mark":{"type":"bar","color":"#8B0000","width":3.569,"xOffset":1.785,"clip":true}}]}
   ]}
  ]}]},
  {"title":{"text":"D","anchor":"start","frame":"bounds","dx":-13,"offset":1,"fontWeight":"bold"},"vconcat":[
  {"title":{"text":"Simulation setting index (spike and slab prior)","orient":"bottom","anchor":"middle","frame":"bounds","dx":34,"offset":-1,"fontWeight":"normal"},"spacing":6,"hconcat":[
    {"bounds":"flush","spacing":0,"vconcat":[
     {"width":125,"height":25,"view":{"fill":"#D9D9D9","stroke":"#333333"},"data":{"values":[{"t":"Heavy"}]},"mark":{"type":"text","fontSize":16,"color":"#1A1A1A"},"encoding":{"text":{"field":"t"}}},
     {"width":125,"height":156,"data":{"name":"DH"},"transform":[{"fold":["L","S"],"as":["m","v"]}],
      "encoding":{
       "x":{"field":"i","type":"quantitative","scale":{"domain":[-1.695,47.695],"nice":false,"zero":false},"axis":{"title":null,"values":[0,5,10,15,20,25,30,35,40,45],"format":"d","labelExpr":"datum.value%10!=0?'':datum.label","tickOpacity":{"condition":{"test":"datum.value%10!=0","value":0},"value":1},"gridWidth":{"condition":{"test":"datum.value%10!=0","value":0.6},"value":1.2}}},
       "y":{"field":"v","type":"quantitative","scale":{"domain":[0.247,12.413],"nice":false,"zero":false},"axis":{"title":["Median Posterior MSE","(Relative to SPH)"],"titlePadding":0,"values":[1.25,2.5,3.75,5,6.25,7.5,8.75,10,11.25],"format":".1f","labelExpr":"abs(datum.value/2.5-round(datum.value/2.5))>0.001?'':datum.label","tickOpacity":{"condition":{"test":"abs(datum.value/2.5-round(datum.value/2.5))>0.001","value":0},"value":1},"gridWidth":{"condition":{"test":"abs(datum.value/2.5-round(datum.value/2.5))>0.001","value":0.6},"value":1.2}}}},
      "layer":[
       {"transform":[{"filter":"datum.m=='L'"}],"mark":{"type":"bar","color":"#CB97DA","width":1.139,"xOffset":-0.57,"clip":true}},
       {"transform":[{"filter":"datum.m=='S'"}],"mark":{"type":"bar","color":"#8B0000","width":1.139,"xOffset":0.57,"clip":true}}]}
    ]},
    {"bounds":"flush","spacing":0,"vconcat":[
     {"width":125,"height":25,"view":{"fill":"#D9D9D9","stroke":"#333333"},"data":{"values":[{"t":"Moderate"}]},"mark":{"type":"text","fontSize":16,"color":"#1A1A1A"},"encoding":{"text":{"field":"t"}}},
     {"width":125,"height":156,"data":{"name":"DM"},"transform":[{"fold":["L","S"],"as":["m","v"]}],
      "encoding":{
       "x":{"field":"i","type":"quantitative","scale":{"domain":[-2.445,63.445],"nice":false,"zero":false},"axis":{"title":null,"values":[0,10,20,30,40,50,60],"format":"d","labelExpr":"datum.value%20!=0?'':datum.label","tickOpacity":{"condition":{"test":"datum.value%20!=0","value":0},"value":1},"gridWidth":{"condition":{"test":"datum.value%20!=0","value":0.6},"value":1.2}}},
       "y":{"field":"v","type":"quantitative","scale":{"domain":[0.225,12.875],"nice":false,"zero":false},"axis":{"title":null,"values":[1.25,2.5,3.75,5,6.25,7.5,8.75,10,11.25,12.5],"format":".1f","labelExpr":"abs(datum.value/2.5-round(datum.value/2.5))>0.001?'':datum.label","tickOpacity":{"condition":{"test":"abs(datum.value/2.5-round(datum.value/2.5))>0.001","value":0},"value":1},"gridWidth":{"condition":{"test":"abs(datum.value/2.5-round(datum.value/2.5))>0.001","value":0.6},"value":1.2}}}},
      "layer":[
       {"transform":[{"filter":"datum.m=='L'"}],"mark":{"type":"bar","color":"#CB97DA","width":0.854,"xOffset":-0.427,"clip":true}},
       {"transform":[{"filter":"datum.m=='S'"}],"mark":{"type":"bar","color":"#8B0000","width":0.854,"xOffset":0.427,"clip":true}}]}
    ]},
   {"bounds":"flush","spacing":0,"vconcat":[
    {"width":125,"height":25,"view":{"fill":"#D9D9D9","stroke":"#333333"},"data":{"values":[{"t":"Thin"}]},"mark":{"type":"text","fontSize":16,"color":"#1A1A1A"},"encoding":{"text":{"field":"t"}}},
    {"width":125,"height":156,"data":{"name":"DT"},"transform":[{"fold":["L","S"],"as":["m","v"]}],
     "encoding":{
      "x":{"field":"i","type":"quantitative","scale":{"domain":[-0.195,16.195],"nice":false,"zero":false},"axis":{"title":null,"values":[0,2.5,5,7.5,10,12.5,15],"format":"d","labelExpr":"datum.value%5!=0?'':datum.label","tickOpacity":{"condition":{"test":"datum.value%5!=0","value":0},"value":1},"gridWidth":{"condition":{"test":"datum.value%5!=0","value":0.6},"value":1.2}}},
      "y":{"field":"v","type":"quantitative","scale":{"domain":[0.7893,1.0258],"nice":false,"zero":false},"axis":{"title":null,"values":[0.8,0.825,0.85,0.875,0.9,0.925,0.95,0.975,1,1.025],"format":".2f","labelExpr":"abs(datum.value*20-round(datum.value*20))>0.001?'':datum.label","tickOpacity":{"condition":{"test":"abs(datum.value*20-round(datum.value*20))>0.001","value":0},"value":1},"gridWidth":{"condition":{"test":"abs(datum.value*20-round(datum.value*20))>0.001","value":0.6},"value":1.2}}}},
     "layer":[
      {"transform":[{"filter":"datum.m=='L'"}],"mark":{"type":"bar","color":"#CB97DA","width":3.432,"xOffset":-1.716,"clip":true}},
      {"transform":[{"filter":"datum.m=='S'"}],"mark":{"type":"bar","color":"#8B0000","width":3.432,"xOffset":1.716,"clip":true}}]}
   ]}
  ]}]}
 ]}
]},
{"width":1000,"height":18,"view":{"stroke":null,"fill":null},
 "layer":[
  {"data":{"values":[{"m":"ℓ₁"},{"m":"SPH"}]},"mark":{"type":"square","opacity":0},
   "encoding":{"color":{"field":"m","type":"nominal","scale":{"domain":["ℓ₁","SPH"],"range":["#60C094","#8B0000"]},
    "legend":{"orient":"none","legendX":178,"legendY":0,"direction":"horizontal","title":null,"symbolType":"square","symbolSize":324,"symbolOpacity":1,"symbolStrokeWidth":0,"labelFontSize":16,"labelColor":"#000000","labelFont":"Liberation Sans, DejaVu Sans","labelOffset":6,"columnPadding":9,"padding":0}}}},
  {"data":{"values":[{"m":"ℓ₂"},{"m":"SPH"}]},"mark":{"type":"square","opacity":0},
   "encoding":{"fill":{"field":"m","type":"nominal","scale":{"domain":["ℓ₂","SPH"],"range":["#CB97DA","#8B0000"]},
    "legend":{"orient":"none","legendX":727,"legendY":0,"direction":"horizontal","title":null,"symbolType":"square","symbolSize":324,"symbolOpacity":1,"symbolStrokeWidth":0,"labelFontSize":16,"labelColor":"#000000","labelFont":"Liberation Sans, DejaVu Sans","labelOffset":6,"columnPadding":9,"padding":0}}}}
 ],
 "resolve":{"scale":{"color":"independent","fill":"independent"}}}
]
}
